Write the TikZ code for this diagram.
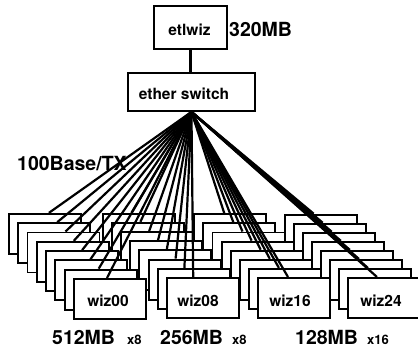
\documentclass[tikz,border=0pt]{standalone}
\usepackage{fontspec}
\setmainfont{TeX Gyre Heros}
\usetikzlibrary{calc}
\begin{document}
\begin{tikzpicture}[x=1pt,y=-1pt,
  box/.style={draw,fill=white,line width=1.9pt,inner sep=0pt,anchor=north west,
              minimum width=72pt,minimum height=40pt},
  topbox/.style={draw,fill=white,line width=1.9pt,inner sep=0pt,anchor=north west},
  link/.style={line width=2.2pt},
  big/.style={font=\fontsize{19.5}{19.5}\selectfont\bfseries,inner sep=0pt,anchor=base west},
  small/.style={font=\fontsize{13}{13}\selectfont\bfseries,inner sep=0pt,anchor=base west},
  boxtext/.style={font=\fontsize{15.5}{15.5}\selectfont\bfseries,inner sep=0pt,anchor=base}]
\useasboundingbox (0,0) rectangle (418,349);

% top boxes
\node[topbox,minimum width=73pt,minimum height=43pt] (et) at (153,5) {};
\node[topbox,minimum width=127pt,minimum height=38pt] (sw) at (127,72) {};
\draw[link] (et.south) -- (et.south |- sw.north);

% stacked machine boxes, back to front
\foreach \k in {0,...,7}{
  \foreach \g/\fx/\fy/\st in {1/73/278/9.3, 2/166/277/9.2, 3/257/277/9.1, 4/347/277/9.05}{
    \node[box] (b\g\k) at ({\fx-(7-\k)*\st},{\fy-(7-\k)*\st}) {};
  }
}

% end points of the links on the box tops
\foreach \k in {0,...,7}{
  \coordinate (e1\k) at ($(b1\k.north west)+({41-\k},0)$);
  \coordinate (e2\k) at ($(b2\k.north west)+({30-0.4*\k},0)$);
  \coordinate (e3\k) at ($(b3\k.north west)+(31,0)$);
  \coordinate (e4\k) at ($(b4\k.north west)+(30,0)$);
}
\foreach \g in {1,2,3,4}{
  \foreach \k in {0,...,7}{
    \draw[link] (sw.south) -- (e\g\k);
  }
}

% texts
\node[boxtext] (tet) at (189.5,35) {etlwiz};
\node[boxtext] (tsw) at (184,99) {ether switch};
\node[big] (mem0) at (229,36) {320MB};
\node[big] (net) at (17,170) {100Base/TX};
\node[boxtext] (t00) at (108,306) {wiz00};
\node[boxtext] (t08) at (198,306) {wiz08};
\node[boxtext] (t16) at (290,306) {wiz16};
\node[boxtext] (t24) at (381,306) {wiz24};
\node[big] (m1) at (52,344) {512MB};
\node[small] (n1) at (127,344) {x8};
\node[big] (m2) at (160,344) {256MB};
\node[small] (n2) at (232,344) {x8};
\node[big] (m3) at (295,344) {128MB};
\node[small] (n3) at (367,344) {x16};
\end{tikzpicture}
\end{document}
